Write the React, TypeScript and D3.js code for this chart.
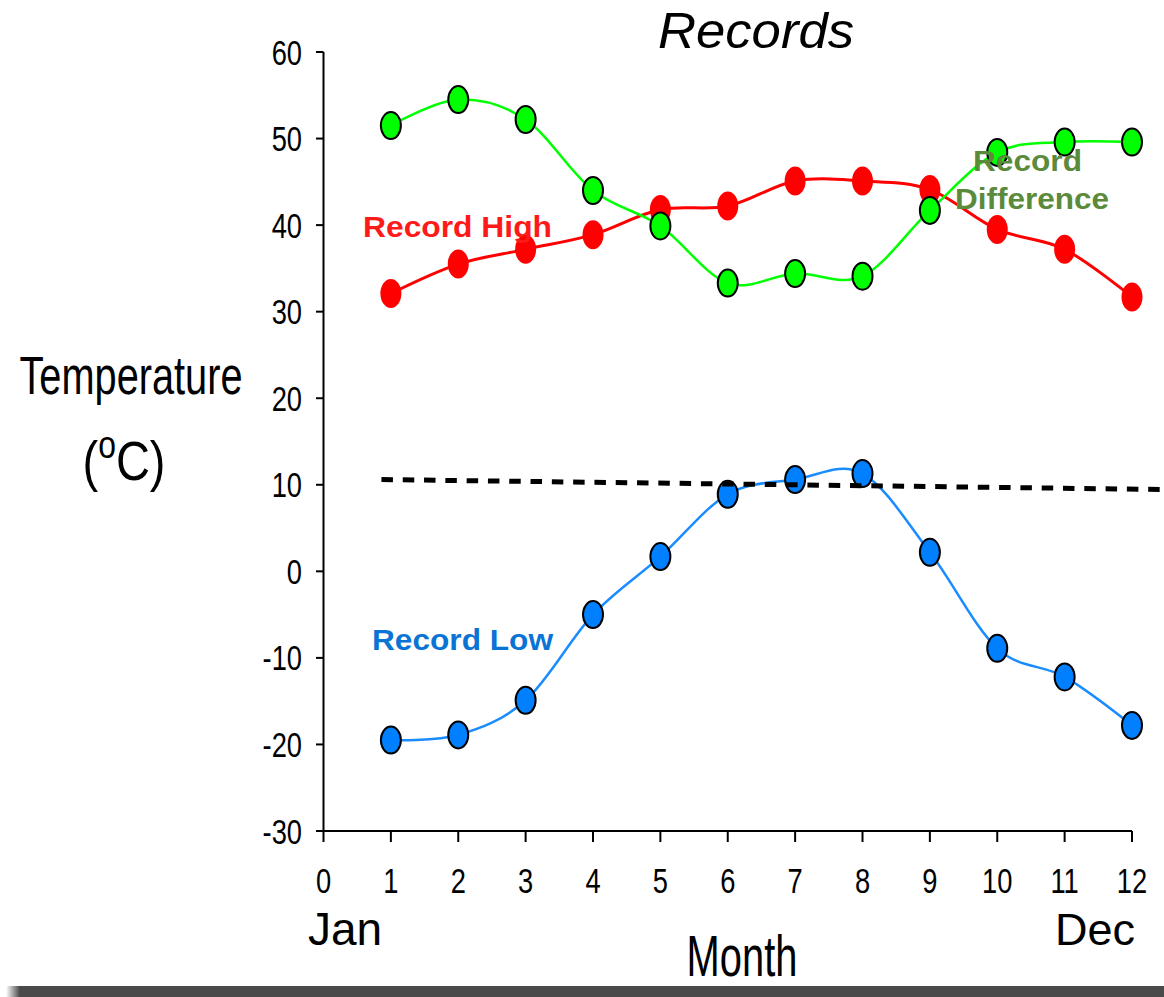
import React from "react";
import * as d3 from "d3";

const months = [1, 2, 3, 4, 5, 6, 7, 8, 9, 10, 11, 12];
const recordHigh = [32.1, 35.5, 37.2, 38.9, 41.8, 42.2, 45.1, 45.1, 44.1, 39.5, 37.2, 31.7];
const recordLow = [-19.5, -18.9, -14.9, -5.0, 1.7, 8.9, 10.6, 11.3, 2.2, -8.9, -12.2, -17.8];
const recordDiff = [51.5, 54.5, 52.2, 44.0, 39.9, 33.3, 34.4, 34.1, 41.7, 48.4, 49.6, 49.6];
const trendX = [0.86, 12.5];
const trendY = [10.6, 9.45];
const yTicks = [-30, -20, -10, 0, 10, 20, 30, 40, 50, 60];
const xTicks = [0, 1, 2, 3, 4, 5, 6, 7, 8, 9, 10, 11, 12];

const W = 1164;
const H = 997;
const FONT = "'Liberation Sans', Arial, sans-serif";

export default function App() {
  const x = d3.scaleLinear().domain([0, 12]).range([323.5, 1132]);
  const y = d3.scaleLinear().domain([-30, 60]).range([831, 52]);

  const line = d3
    .line<[number, number]>()
    .x((d) => x(d[0]))
    .y((d) => y(d[1]))
    .curve(d3.curveCardinal.tension(0));

  const pts = (vals: number[]) => months.map((m, i) => [m, vals[i]] as [number, number]);
  const trendLine = d3
    .line<[number, number]>()
    .x((d) => x(d[0]))
    .y((d) => y(d[1]));

  return (
    <svg
      width={W}
      height={H}
      style={{ position: "absolute", left: 0, top: 0, display: "block", background: "#fff" }}
      fontFamily={FONT}
    >
      <defs>
        <linearGradient id="shadowGrad" x1="0" x2="1" y1="0" y2="0">
          <stop offset="0" stopColor="#4a4a4a" stopOpacity="0" />
          <stop offset="0.012" stopColor="#4a4a4a" stopOpacity="1" />
          <stop offset="1" stopColor="#4a4a4a" stopOpacity="1" />
        </linearGradient>
      </defs>
      <rect x={0} y={0} width={W} height={H} fill="#fff" />
      {/* bottom shadow bar */}
      <rect x={6} y={986} width={W - 6} height={11} fill="url(#shadowGrad)" />

      {/* title */}
      <text
        x={756}
        y={48}
        fontSize={50}
        fontStyle="italic"
        textAnchor="middle"
        textLength={196}
        lengthAdjust="spacingAndGlyphs"
        fill="#000"
      >
        Records
      </text>

      {/* axes */}
      <line x1={x(0)} x2={x(0)} y1={y(60)} y2={y(-30)} stroke="#000" strokeWidth={2} />
      <line x1={316} x2={x(12)} y1={y(-30)} y2={y(-30)} stroke="#000" strokeWidth={2} />
      {yTicks.map((t) => (
        <g key={"yt" + t}>
          <line x1={316} x2={x(0)} y1={y(t)} y2={y(t)} stroke="#000" strokeWidth={2} />
          <text
            transform={`translate(302,${y(t) + 12.5}) scale(0.78,1)`}
            fontSize={35}
            textAnchor="end"
            fill="#000"
          >
            {t}
          </text>
        </g>
      ))}
      {xTicks.map((t) => (
        <g key={"xt" + t}>
          <line x1={x(t)} x2={x(t)} y1={y(-30)} y2={y(-30) + 11} stroke="#000" strokeWidth={2} />
          <text
            transform={`translate(${x(t)},893) scale(0.78,1)`}
            fontSize={35}
            textAnchor="middle"
            fill="#000"
          >
            {t}
          </text>
        </g>
      ))}

      {/* axis titles */}
      <text x={308} y={945} fontSize={46} fill="#000">
        Jan
      </text>
      <text x={1135} y={945} fontSize={45} textAnchor="end" fill="#000">
        Dec
      </text>
      <text transform="translate(742,976) scale(0.70,1)" fontSize={57} textAnchor="middle" fill="#000">
        Month
      </text>
      <text transform="translate(131,394) scale(0.75,1)" fontSize={53} textAnchor="middle" fill="#000">
        Temperature
      </text>
      <text transform="translate(124,480) scale(0.84,1)" fontSize={56} textAnchor="middle" fill="#000">
        <tspan>(</tspan>
        <tspan fontSize={38} dy={-22}>
          o
        </tspan>
        <tspan fontSize={56} dy={22}>
          C)
        </tspan>
      </text>

      {/* Record High (red) */}
      <path d={line(pts(recordHigh)) || ""} fill="none" stroke="#ff0000" strokeWidth={3} />
      {months.map((m, i) => (
        <ellipse key={"h" + m} cx={x(m)} cy={y(recordHigh[i])} rx={10.5} ry={14.5} fill="#ff0000" />
      ))}

      {/* Record Difference (green) */}
      <path d={line(pts(recordDiff)) || ""} fill="none" stroke="#00ff00" strokeWidth={2.5} />
      {months.map((m, i) => (
        <ellipse
          key={"d" + m}
          cx={x(m)}
          cy={y(recordDiff[i])}
          rx={10}
          ry={13.5}
          fill="#00ff00"
          stroke="#000"
          strokeWidth={2}
        />
      ))}

      {/* Record Low (blue) */}
      <path d={line(pts(recordLow)) || ""} fill="none" stroke="#1a8cff" strokeWidth={2.5} />
      {months.map((m, i) => (
        <ellipse
          key={"l" + m}
          cx={x(m)}
          cy={y(recordLow[i])}
          rx={10}
          ry={13.5}
          fill="#0080ff"
          stroke="#000"
          strokeWidth={2}
        />
      ))}

      {/* dashed trend line */}
      <path
        d={trendLine(trendX.map((v, i) => [v, trendY[i]] as [number, number])) || ""}
        fill="none"
        stroke="#000"
        strokeWidth={5}
        strokeDasharray="11.5 9.8"
      />

      {/* series labels */}
      <text
        x={363}
        y={237}
        fontSize={29}
        fontWeight="bold"
        fill="#ff1a1a"
        textLength={189}
        lengthAdjust="spacingAndGlyphs"
      >
        Record High
      </text>
      <text
        x={372}
        y={650}
        fontSize={29}
        fontWeight="bold"
        fill="#0a74d4"
        textLength={181}
        lengthAdjust="spacingAndGlyphs"
      >
        Record Low
      </text>
      <text
        x={973}
        y={171}
        fontSize={29}
        fontWeight="bold"
        fill="#5b8a3b"
        textLength={109}
        lengthAdjust="spacingAndGlyphs"
      >
        Record
      </text>
      <text
        x={955}
        y={209}
        fontSize={29}
        fontWeight="bold"
        fill="#5b8a3b"
        textLength={154}
        lengthAdjust="spacingAndGlyphs"
      >
        Difference
      </text>
    </svg>
  );
}
